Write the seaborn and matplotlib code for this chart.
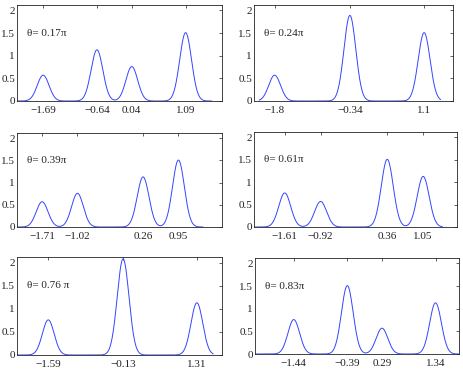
import numpy as np
import pandas as pd
import seaborn as sns
import matplotlib.pyplot as plt

# peak positions (also the x tick labels) and peak heights, one list per panel
thetas = ["θ= 0.17π", "θ= 0.24π", "θ= 0.39π", "θ= 0.61π", "θ= 0.76 π", "θ= 0.83π"]
pos_1 = [-1.69, -0.64, 0.04, 1.09]
amp_1 = [0.57, 1.13, 0.76, 1.51]
pos_2 = [-1.8, -0.34, 1.1]
amp_2 = [0.57, 1.89, 1.51]
pos_3 = [-1.71, -1.02, 0.26, 0.95]
amp_3 = [0.57, 0.76, 1.13, 1.51]
pos_4 = [-1.61, -0.92, 0.36, 1.05]
amp_4 = [0.76, 0.57, 1.51, 1.13]
pos_5 = [-1.59, -0.13, 1.31]
amp_5 = [0.76, 2.08, 1.13]
pos_6 = [-1.44, -0.39, 0.29, 1.34]
amp_6 = [0.76, 1.51, 0.57, 1.13]

positions = [pos_1, pos_2, pos_3, pos_4, pos_5, pos_6]
amplitudes = [amp_1, amp_2, amp_3, amp_4, amp_5, amp_6]
x_ranges = [(-2.2, 1.6), (-2.1, 1.42), (-2.2, 1.43), (-2.2, 1.42), (-2.2, 1.63), (-2.2, 1.8)]
x_limits = [(-2.2, 1.8), (-2.2, 1.66), (-2.2, 1.8), (-2.2, 1.7), (-2.2, 1.8), (-2.2, 1.8)]
sigma = 0.115

sns.set_style("white")
plt.rcParams["font.family"] = ["Liberation Serif", "DejaVu Serif"]

W, H = 463, 372
fig = plt.figure(figsize=(W / 100, H / 100), dpi=100)

# axes boxes in pixels: left, top, right, bottom
boxes = [(17, 5, 222, 101), (254, 5, 453, 101),
         (17, 133, 222, 227), (254, 132, 457, 227),
         (17, 257, 222, 355), (255, 258, 459, 354)]

for i, (l, t, r, b) in enumerate(boxes):
    ax = fig.add_axes([l / W, 1 - b / H, (r - l) / W, (b - t) / H])
    x = np.linspace(*x_ranges[i], 800)
    y = np.zeros_like(x)
    for p, a in zip(positions[i], amplitudes[i]):
        y += a * np.exp(-(x - p) ** 2 / (2 * sigma ** 2))
    df = pd.DataFrame({"x": x, "y": y})
    sns.lineplot(data=df, x="x", y="y", ax=ax, color="#3444ff", linewidth=0.7)
    ax.set_xlim(*x_limits[i])
    ax.set_ylim(0, 2.12)
    ax.set_xticks(positions[i])
    ax.set_xticklabels([f"{p:g}".replace("-", "\u2212") for p in positions[i]])
    ax.set_yticks([0, 0.5, 1, 1.5, 2])
    ax.set_yticklabels(["0", "0.5", "1", "1.5", "2"])
    ax.set_xlabel("")
    ax.set_ylabel("")
    ax.tick_params(direction="in", length=2.5, width=0.5, labelsize=8,
                   top=True, right=True, colors="#222222")
    ax.tick_params(axis="x", pad=3.5)
    ax.tick_params(axis="y", pad=1.5)
    for s in ax.spines.values():
        s.set_linewidth(0.6)
        s.set_color("#222222")
    ax.text(x_limits[i][0] + 0.2, 1.5, thetas[i], fontsize=8, va="center")

fig.savefig("out.png", dpi=100)
